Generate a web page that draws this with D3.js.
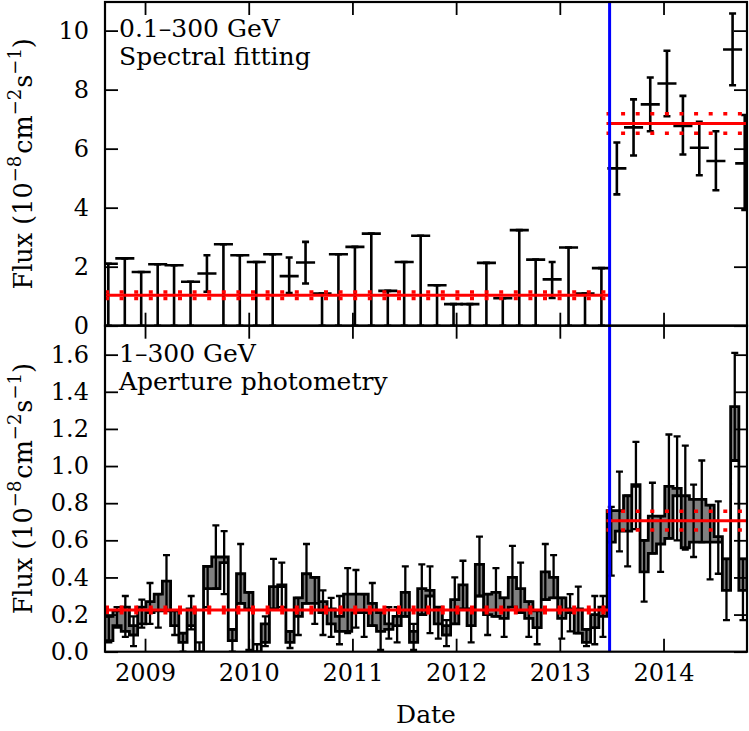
<!DOCTYPE html>
<html>
<head>
<meta charset="utf-8">
<script src="https://cdn.jsdelivr.net/npm/d3@7"></script>
<style>
  body { margin: 0; background: #fff; }
  text { font-family: "DejaVu Serif", serif; fill: #000; }
</style>
</head>
<body>
<div id="chart"></div>
<script>
// top panel: 0.1-300 GeV spectral fitting, ~2 month bins
// upper limits are stored with lo = 0 and hi = flux
var topTime = [2008.646, 2008.805, 2008.963, 2009.122, 2009.280, 2009.439, 2009.597, 2009.756,
  2009.914, 2010.073, 2010.231, 2010.390, 2010.548, 2010.707, 2010.865, 2011.024, 2011.182,
  2011.341, 2011.499, 2011.658, 2011.816, 2011.975, 2012.133, 2012.292, 2012.450, 2012.609,
  2012.767, 2012.926, 2013.084, 2013.243, 2013.401,
  2013.550, 2013.711, 2013.872, 2014.033, 2014.187, 2014.345, 2014.505, 2014.666, 2014.783];
var topFlux = [2.10, 2.28, 1.82, 2.08, 2.05, 1.49, 1.77, 2.76, 2.39, 2.16, 2.42, 1.68, 2.14, 1.09,
  2.42, 2.67, 3.12, 1.18, 2.16, 3.05, 1.37, 0.73, 0.73, 2.13, 0.93, 3.24, 2.24, 1.57, 2.65, 1.09, 1.95,
  5.33, 6.72, 7.50, 8.21, 6.77, 6.03, 5.58, 9.36, 5.50];
var topLo = [0, 0, 0, 0, 0, 0, 1.15, 0, 0, 0, 0, 1.11, 1.43, 0, 0, 0, 0, 0, 0, 0, 0, 0, 0, 0, 0, 0,
  0, 0.94, 0, 0, 0,
  4.45, 5.77, 6.59, 7.10, 5.80, 5.10, 4.59, 8.15, 3.92];
var topHi = [2.10, 2.28, 1.82, 2.08, 2.05, 1.49, 2.39, 2.76, 2.39, 2.16, 2.42, 2.31, 2.84, 1.09,
  2.42, 2.67, 3.12, 1.18, 2.16, 3.05, 1.37, 0.73, 0.73, 2.13, 0.93, 3.24, 2.24, 2.16, 2.65, 1.09, 1.95,
  6.21, 7.67, 8.41, 9.32, 7.79, 6.91, 6.59, 10.58, 7.14];

// bottom panel: 1-300 GeV aperture photometry, ~monthly bins
var botTime = [2008.651, 2008.730, 2008.810, 2008.889, 2008.969, 2009.048, 2009.128, 2009.207,
  2009.286, 2009.366, 2009.445, 2009.525, 2009.604, 2009.683, 2009.763, 2009.842, 2009.922,
  2010.001, 2010.081, 2010.160, 2010.239, 2010.319, 2010.398, 2010.478, 2010.557, 2010.637,
  2010.716, 2010.795, 2010.875, 2010.954, 2011.034, 2011.113, 2011.192, 2011.272, 2011.351,
  2011.431, 2011.510, 2011.590, 2011.669, 2011.748, 2011.828, 2011.907, 2011.987, 2012.066,
  2012.145, 2012.225, 2012.304, 2012.384, 2012.463, 2012.543, 2012.622, 2012.701, 2012.781,
  2012.860, 2012.940, 2013.019, 2013.099, 2013.178, 2013.257, 2013.337, 2013.416, 2013.496,
  2013.575, 2013.654, 2013.734, 2013.813, 2013.893, 2013.972, 2014.052, 2014.131, 2014.210,
  2014.290, 2014.369, 2014.449, 2014.528, 2014.607, 2014.687, 2014.766];
var botHi = [0.19, 0.22, 0.24, 0.14, 0.24, 0.27, 0.31, 0.38, 0.22, 0.10, 0.23, 0.00, 0.46, 0.51,
  0.51, 0.12, 0.42, 0.32, 0.00, 0.15, 0.35, 0.36, 0.11, 0.29, 0.42, 0.40, 0.27, 0.23, 0.19, 0.31,
  0.31, 0.31, 0.26, 0.21, 0.15, 0.19, 0.32, 0.11, 0.34, 0.33, 0.24, 0.14, 0.28, 0.36, 0.23, 0.47,
  0.31, 0.32, 0.29, 0.40, 0.34, 0.27, 0.22, 0.43, 0.40, 0.29, 0.23, 0.23, 0.12, 0.20, 0.24,
  0.76, 0.76, 0.84, 0.90, 0.60, 0.73, 0.73, 0.89, 0.88, 0.84, 0.82, 0.82, 0.79, 0.62, 0.50, 1.32, 0.50];
var botLo = [0.06, 0.14, 0.11, 0.09, 0.15, 0.21, 0.22, 0.22, 0.14, 0.05, 0.14, -0.02, 0.34, 0.34,
  0.48, 0.06, 0.26, 0.23, -0.02, 0.05, 0.23, 0.35, 0.05, 0.19, 0.26, 0.26, 0.21, 0.15, 0.11, 0.11,
  0.21, 0.21, 0.14, 0.11, 0.12, 0.14, 0.19, 0.05, 0.20, 0.30, 0.15, 0.09, 0.15, 0.23, 0.14, 0.30,
  0.20, 0.19, 0.18, 0.24, 0.21, 0.18, 0.13, 0.28, 0.29, 0.18, 0.21, 0.10, 0.05, 0.13, 0.19,
  0.59, 0.65, 0.65, 0.89, 0.43, 0.53, 0.58, 0.61, 0.84, 0.56, 0.59, 0.59, 0.59, 0.59, 0.33, 1.03, 0.33];
var errHi = [0.19, 0.24, 0.30, 0.19, 0.28, 0.37, 0.31, 0.52, 0.22, 0.10, 0.30, 0.05, 0.46, 0.68,
  0.65, 0.12, 0.58, 0.32, 0.04, 0.19, 0.50, 0.48, 0.11, 0.29, 0.58, 0.40, 0.33, 0.29, 0.30, 0.45,
  0.44, 0.31, 0.37, 0.21, 0.24, 0.24, 0.46, 0.15, 0.47, 0.46, 0.24, 0.17, 0.40, 0.49, 0.23, 0.62,
  0.31, 0.45, 0.29, 0.57, 0.48, 0.27, 0.22, 0.58, 0.52, 0.29, 0.31, 0.35, 0.12, 0.30, 0.30,
  0.78, 0.97, 0.84, 1.13, 0.60, 0.91, 0.73, 1.17, 1.16, 1.11, 0.90, 1.03, 0.79, 0.81, 0.50, 1.61, 0.50];
var errLo = [0.05, 0.13, 0.08, 0.03, 0.13, 0.15, 0.13, 0.22, 0.09, 0.00, 0.12, -0.05, 0.24, 0.34,
  0.31, 0.00, 0.26, 0.01, -0.05, 0.03, 0.23, 0.24, 0.02, 0.09, 0.26, 0.15, 0.09, 0.08, 0.04, 0.10,
  0.13, 0.08, 0.14, 0.01, 0.07, 0.05, 0.19, 0.01, 0.20, 0.10, 0.07, 0.03, 0.15, 0.23, 0.05, 0.30,
  0.09, 0.19, 0.08, 0.24, 0.21, 0.08, 0.04, 0.28, 0.29, 0.07, 0.11, 0.10, 0.03, 0.04, 0.08,
  0.41, 0.54, 0.46, 0.66, 0.27, 0.53, 0.43, 0.61, 0.60, 0.55, 0.51, 0.59, 0.39, 0.42, 0.17, 1.03, 0.17];

// mean levels before / after the change (blue line)
var periodStart = [2008.614, 2013.45];
var periodEnd = [2013.48, 2014.805];
var topMean = [1.03, 6.85];
var topMeanErr = [0.11, 0.33];
var botMean = [0.225, 0.706];
var botMeanErr = [0.015, 0.05];
var changeDate = 2013.48;

var yearTicks = [2009, 2010, 2011, 2012, 2013, 2014];
var topTicks = [0, 2, 4, 6, 8, 10];
var botTicks = [0, 0.2, 0.4, 0.6, 0.8, 1.0, 1.2, 1.4, 1.6];

var W = 749, H = 731;
var left = 105, right = 747, top0 = 2, mid = 325.7, bottom = 651.7;
var tick = 13;

var svg = d3.select("#chart").append("svg")
  .attr("width", W).attr("height", H);

var x = d3.scaleLinear().domain([2008.614, 2014.805]).range([left, right]);
var yTop = d3.scaleLinear().domain([0, 10.97]).range([mid, top0]);
var yBot = d3.scaleLinear().domain([0, 1.756]).range([bottom, mid]);

// clip paths for the two panels
var defs = svg.append("defs");
defs.append("clipPath").attr("id", "clipTop").append("rect")
  .attr("x", left).attr("y", top0).attr("width", right - left).attr("height", mid - top0);
defs.append("clipPath").attr("id", "clipBot").append("rect")
  .attr("x", left).attr("y", mid).attr("width", right - left).attr("height", bottom - mid);

// ---- top panel marks
var topData = topTime.map(function(t, i) {
  return {t: t, v: topFlux[i], lo: topLo[i], hi: topHi[i]};
});
var gTop = svg.append("g").attr("clip-path", "url(#clipTop)");
var halfW = 0.092;
var capW = 3.5;
var pts = gTop.selectAll("g.pt").data(topData).enter().append("g")
  .attr("stroke", "#000").attr("stroke-width", 2.6).attr("fill", "none");
pts.append("line")
  .attr("x1", function(d) { return x(d.t); }).attr("x2", function(d) { return x(d.t); })
  .attr("y1", function(d) { return yTop(d.lo); }).attr("y2", function(d) { return yTop(d.hi); });
pts.append("line")
  .attr("x1", function(d) { return x(d.t - halfW); }).attr("x2", function(d) { return x(d.t + halfW); })
  .attr("y1", function(d) { return yTop(d.v); }).attr("y2", function(d) { return yTop(d.v); });
pts.append("line")
  .attr("x1", function(d) { return x(d.t) - capW; }).attr("x2", function(d) { return x(d.t) + capW; })
  .attr("y1", function(d) { return yTop(d.hi); }).attr("y2", function(d) { return yTop(d.hi); });
pts.append("line")
  .attr("x1", function(d) { return x(d.t) - capW; }).attr("x2", function(d) { return x(d.t) + capW; })
  .attr("y1", function(d) { return yTop(d.lo); }).attr("y2", function(d) { return yTop(d.lo); });

// ---- bottom panel: step band + error bars
var binHalf = 0.0397;
var stepPts = [];
botTime.forEach(function(t, i) {
  stepPts.push({t: t - binHalf, hi: botHi[i], lo: botLo[i]});
  stepPts.push({t: t + binHalf, hi: botHi[i], lo: botLo[i]});
});
var gBot = svg.append("g").attr("clip-path", "url(#clipBot)");
var area = d3.area()
  .x(function(d) { return x(d.t); })
  .y0(function(d) { return yBot(d.lo); })
  .y1(function(d) { return yBot(d.hi); });
gBot.append("path").datum(stepPts)
  .attr("d", area)
  .attr("fill", "#808080")
  .attr("stroke", "#000")
  .attr("stroke-width", 2.8)
  .attr("stroke-linejoin", "miter");

var botData = botTime.map(function(t, i) { return {t: t, lo: errLo[i], hi: errHi[i]}; });
var eb = gBot.selectAll("g.eb").data(botData).enter().append("g")
  .attr("stroke", "#000").attr("stroke-width", 2.3);
eb.append("line")
  .attr("x1", function(d) { return x(d.t); }).attr("x2", function(d) { return x(d.t); })
  .attr("y1", function(d) { return yBot(d.lo); }).attr("y2", function(d) { return yBot(d.hi); });
eb.append("line")
  .attr("x1", function(d) { return x(d.t) - capW; }).attr("x2", function(d) { return x(d.t) + capW; })
  .attr("y1", function(d) { return yBot(d.hi); }).attr("y2", function(d) { return yBot(d.hi); });
eb.append("line")
  .attr("x1", function(d) { return x(d.t) - capW; }).attr("x2", function(d) { return x(d.t) + capW; })
  .attr("y1", function(d) { return yBot(d.lo); }).attr("y2", function(d) { return yBot(d.lo); });

// ---- blue change line
svg.append("line")
  .attr("x1", x(changeDate)).attr("x2", x(changeDate))
  .attr("y1", top0).attr("y2", bottom)
  .attr("stroke", "#0000ff").attr("stroke-width", 3);

// ---- red mean levels with dotted uncertainty
function meanLines(g, y, mean, err) {
  periodStart.forEach(function(s, i) {
    var e = periodEnd[i];
    g.append("line")
      .attr("x1", x(s)).attr("x2", x(e))
      .attr("y1", y(mean[i])).attr("y2", y(mean[i]))
      .attr("stroke", "#ff0000").attr("stroke-width", 3);
    [mean[i] - err[i], mean[i] + err[i]].forEach(function(v) {
      g.append("line")
        .attr("x1", x(s)).attr("x2", x(e))
        .attr("y1", y(v)).attr("y2", y(v))
        .attr("stroke", "#ff0000").attr("stroke-width", 3.5)
        .attr("stroke-dasharray", "4,10.6");
    });
  });
}
meanLines(gTop, yTop, topMean, topMeanErr);
meanLines(gBot, yBot, botMean, botMeanErr);

// ---- axes (ticks inside, on all four sides)
function axis(gen, tx, ty) {
  var g = svg.append("g").attr("transform", "translate(" + tx + "," + ty + ")").call(gen);
  g.select(".domain").remove();
  g.selectAll(".tick line").attr("stroke", "#000").attr("stroke-width", 1.8);
  g.selectAll(".tick text").attr("font-family", "DejaVu Serif").attr("font-size", 24).attr("fill", "#000");
  return g;
}
axis(d3.axisLeft(yTop).tickValues(topTicks).tickSize(-tick).tickPadding(16).tickFormat(d3.format("d")), left, 0);
axis(d3.axisRight(yTop).tickValues(topTicks).tickSize(-tick).tickFormat(""), right, 0);
axis(d3.axisTop(x).tickValues(yearTicks).tickSize(-tick).tickFormat(""), 0, top0);
axis(d3.axisBottom(x).tickValues(yearTicks).tickSize(-tick).tickFormat(""), 0, mid);
axis(d3.axisLeft(yBot).tickValues(botTicks).tickSize(-tick).tickPadding(16).tickFormat(d3.format(".1f")), left, 0);
axis(d3.axisRight(yBot).tickValues(botTicks).tickSize(-tick).tickFormat(""), right, 0);
axis(d3.axisTop(x).tickValues(yearTicks).tickSize(-tick).tickFormat(""), 0, mid);
axis(d3.axisBottom(x).tickValues(yearTicks).tickSize(-tick).tickPadding(12).tickFormat(d3.format("d")), 0, bottom);

// frames
[[top0, mid], [mid, bottom]].forEach(function(p) {
  svg.append("rect")
    .attr("x", left).attr("y", p[0]).attr("width", right - left).attr("height", p[1] - p[0])
    .attr("fill", "none").attr("stroke", "#000").attr("stroke-width", 2.2);
});

// ---- texts
function note(lines, x0, y0) {
  lines.forEach(function(s, i) {
    svg.append("text").attr("x", x0).attr("y", y0 + i * 28)
      .attr("font-size", 25).text(s);
  });
}
note(["0.1\u2013300 GeV", "Spectral fitting"], 119, 37);
note(["1\u2013300 GeV", "Aperture photometry"], 119, 362);

function fluxLabel(cy) {
  var t = svg.append("text")
    .attr("transform", "translate(32," + cy + ") rotate(-90)")
    .attr("text-anchor", "middle").attr("font-size", 25.5);
  t.append("tspan").text("Flux (10");
  t.append("tspan").attr("dy", -11).attr("font-size", 18).text("\u22128");
  t.append("tspan").attr("dy", 11).attr("dx", 2).text("cm");
  t.append("tspan").attr("dy", -11).attr("font-size", 18).text("\u22122");
  t.append("tspan").attr("dy", 11).attr("dx", 1).text("s");
  t.append("tspan").attr("dy", -11).attr("font-size", 18).text("\u22121");
  t.append("tspan").attr("dy", 11).text(")");
}
fluxLabel((top0 + mid) / 2);
fluxLabel((mid + bottom) / 2);

svg.append("text")
  .attr("x", (left + right) / 2).attr("y", 723)
  .attr("text-anchor", "middle").attr("font-size", 25).text("Date");
</script>
</body>
</html>
